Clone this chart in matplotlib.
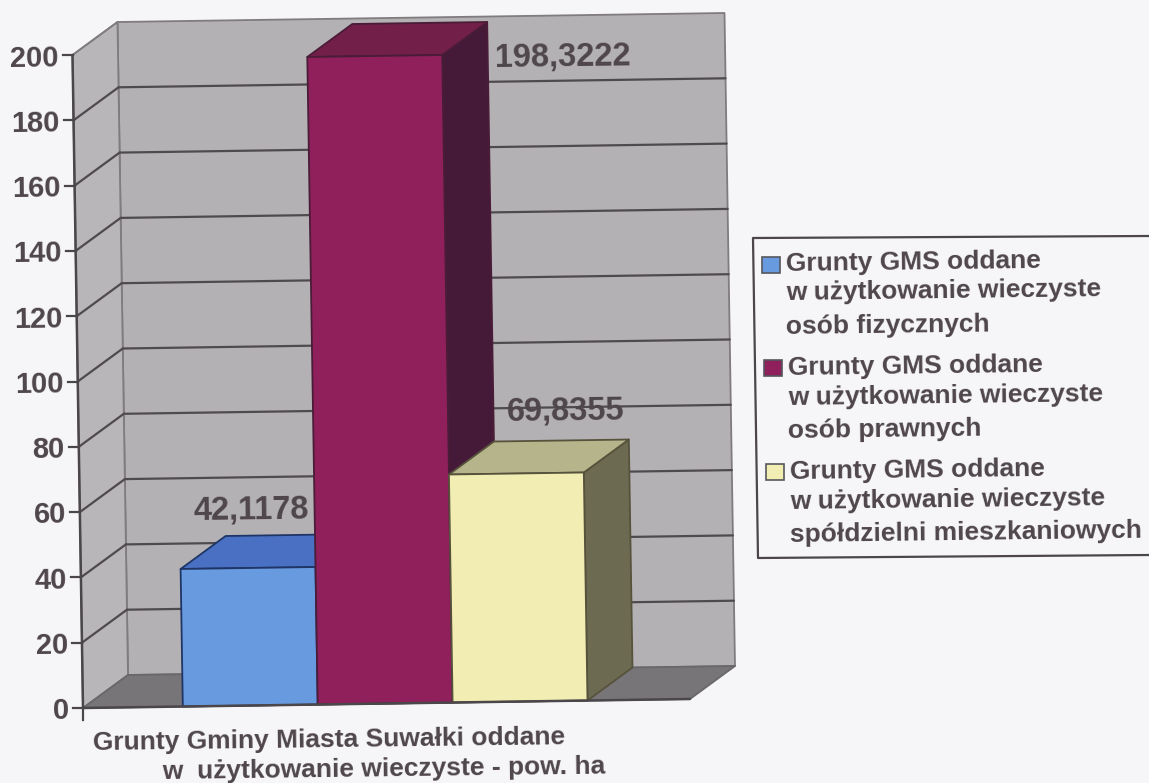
import matplotlib
matplotlib.use('Agg')
import matplotlib.pyplot as plt
from matplotlib.patches import Polygon, Rectangle

plt.rcParams['font.family'] = ['Liberation Sans', 'DejaVu Sans']

series_values = [42.1178, 198.3222, 69.8355]
value_labels = ['42,1178', '198,3222', '69,8355']
y_ticks = [0, 20, 40, 60, 80, 100, 120, 140, 160, 180, 200]
x_label = ['Grunty Gminy Miasta Suwałki oddane', 'w  użytkowanie wieczyste - pow. ha']
legend_labels = [
    ['Grunty GMS oddane', 'w użytkowanie wieczyste', 'osób fizycznych'],
    ['Grunty GMS oddane', 'w użytkowanie wieczyste', 'osób prawnych'],
    ['Grunty GMS oddane', 'w użytkowanie wieczyste', 'spółdzielni mieszkaniowych'],
]

front_colors = ['#689ae0', '#8f205c', '#f2edb2']
top_colors = ['#4a70c4', '#722049', '#b6b48a']
side_colors = ['#34508c', '#451a38', '#6c6b52']
edge_colors = ['#1f3566', '#4a1c38', '#57523c']
TEXT = '#4f464c'

X_MIN, X_MAX = -1.24, 3.26
Y_MAX = 200.0
ORIGIN = (83.0, 708.0)
X_VEC = (607.0, -9.0)
Y_VEC = (-10.5, -653.0)
D_VEC = (45.0, -33.0)


def project(x, y, d=0.0):
    """category position, value and depth (0 front, 1 back) to picture pixels"""
    fx = (x - X_MIN) / (X_MAX - X_MIN)
    fy = y / Y_MAX
    return (ORIGIN[0] + fx * X_VEC[0] + fy * Y_VEC[0] + d * D_VEC[0],
            ORIGIN[1] + fx * X_VEC[1] + fy * Y_VEC[1] + d * D_VEC[1])


def face(ax, corners, color, edge, lw=1.3, zorder=1):
    ax.add_patch(Polygon([project(*c) for c in corners], closed=True, facecolor=color,
                         edgecolor=edge, linewidth=lw, joinstyle='round', zorder=zorder))


def line(ax, a, b, color='#4f4a4e', lw=1.6, zorder=2):
    pa, pb = project(*a), project(*b)
    ax.plot([pa[0], pb[0]], [pa[1], pb[1]], color=color, linewidth=lw, zorder=zorder,
            solid_capstyle='round')


fig = plt.figure(figsize=(11.49, 7.83), dpi=100, facecolor='#f6f6f8')
ax = fig.add_axes([0, 0, 1, 1])
ax.set_xlim(0, 1149)
ax.set_ylim(783, 0)
ax.axis('off')

# walls and floor
face(ax, [(X_MIN, 0, 1), (X_MAX, 0, 1), (X_MAX, Y_MAX, 1), (X_MIN, Y_MAX, 1)], '#b3b1b4', '#7f7b7f')
face(ax, [(X_MIN, 0, 0), (X_MIN, 0, 1), (X_MIN, Y_MAX, 1), (X_MIN, Y_MAX, 0)], '#b8b6b8', '#7f7b7f')
face(ax, [(X_MIN, 0, 0), (X_MAX, 0, 0), (X_MAX, 0, 1), (X_MIN, 0, 1)], '#777578', '#6a676a')

for t in y_ticks[1:-1]:
    line(ax, (X_MIN, t, 0), (X_MIN, t, 1))
    line(ax, (X_MIN, t, 1), (X_MAX, t, 1))
line(ax, (X_MIN, Y_MAX, 0), (X_MIN, Y_MAX, 1), color='#7f7b7f', lw=1.2)

# bars, left to right so each one hides the side of the previous one
for i, v in enumerate(series_values):
    l, r = i - 0.5, i + 0.5
    e = edge_colors[i]
    face(ax, [(r, 0, 0), (r, 0, 1), (r, v, 1), (r, v, 0)], side_colors[i], e, zorder=3 + i)
    face(ax, [(l, v, 0), (r, v, 0), (r, v, 1), (l, v, 1)], top_colors[i], e, zorder=3 + i)
    face(ax, [(l, 0, 0), (r, 0, 0), (r, v, 0), (l, v, 0)], front_colors[i], e, zorder=3 + i)

# axes and ticks
line(ax, (X_MIN, 0, 0), (X_MIN, Y_MAX, 0), color='#4a4649', lw=1.8, zorder=8)
line(ax, (X_MIN, 0, 0), (X_MAX, 0, 0), color='#4a4649', lw=1.8, zorder=8)
for t in y_ticks:
    px, py = project(X_MIN, t)
    ax.plot([px - 10, px], [py, py], color='#4a4649', linewidth=1.6, zorder=8)
    ax.text(px - 14, py, str(t), ha='right', va='center_baseline', fontsize=21, fontweight='bold',
            color=TEXT, rotation=0.7, rotation_mode='anchor', zorder=9)
px, py = project(X_MIN, 0)
ax.plot([px, px], [py, py + 12], color='#4a4649', linewidth=1.6, zorder=8)

# value labels sit up and right of each bar
label_pos = [(251, 507), (563, 54), (565, 408)]
for s, (lx, ly) in zip(value_labels, label_pos):
    ax.text(lx, ly, s, ha='center', va='center_baseline', fontsize=23.5, fontweight='bold',
            color=TEXT, rotation=0.7, rotation_mode='anchor', zorder=9)

ax.text(93, 741, x_label[0], ha='left', va='center_baseline', fontsize=19, fontweight='bold',
        color=TEXT, rotation=0.7, rotation_mode='anchor')
ax.text(162, 770, x_label[1], ha='left', va='center_baseline', fontsize=19, fontweight='bold',
        color=TEXT, rotation=0.7, rotation_mode='anchor')

# legend box runs off the right edge
ax.plot([1149, 753, 758, 1149], [236, 238, 558, 555], color='#4a4649', linewidth=1.6)
swatches = [(762, 257), (764, 360), (766, 464)]
line_y = [[262, 291, 325], [366, 396, 429], [470, 500, 533]]
for i, rows in enumerate(legend_labels):
    sx, sy = swatches[i]
    ax.add_patch(Rectangle((sx, sy), 18, 16, facecolor=front_colors[i], edgecolor='#55575c', linewidth=1.2))
    for row, ty in zip(rows, line_y[i]):
        ax.text(sx + 24, ty, row, ha='left', va='center_baseline', fontsize=19, fontweight='bold',
                color=TEXT, rotation=0.7, rotation_mode='anchor')

fig.savefig('out.png', dpi=100, facecolor=fig.get_facecolor())
